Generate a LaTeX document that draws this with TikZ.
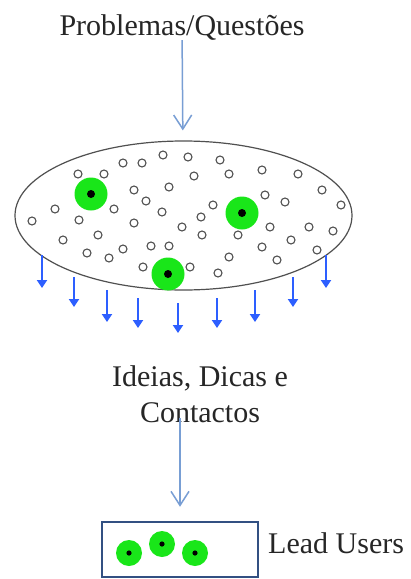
\documentclass[tikz,border=0pt]{standalone}
\usepackage{fontspec}
\newfontfamily\lblfont{Liberation Serif}
\usetikzlibrary{arrows.meta,shapes.geometric}
\definecolor{dotgray}{RGB}{80,80,80}
\definecolor{leadgreen}{RGB}{25,230,25}
\definecolor{flowblue}{RGB}{120,158,212}
\definecolor{dropblue}{RGB}{45,95,255}
\definecolor{boxblue}{RGB}{50,80,130}
\tikzset{
  lbl/.style={font=\lblfont\fontsize{30}{36}\selectfont, inner sep=0pt, text=black!85},
  flow/.style={draw=flowblue, line width=1.5pt, -{Straight Barb[length=14pt,width=18pt,line width=1.5pt]}},
  drop/.style={draw=dropblue, line width=2pt, -{Triangle[length=8pt,width=10pt]}},
  dotc/.style={draw=dotgray, line width=1.1pt, fill=white},
  lead/.style={fill=leadgreen},
  core/.style={fill=black},
}
\begin{document}
\begin{tikzpicture}[x=1pt,y=-1pt]
\useasboundingbox[fill=white] (0,0) rectangle (411,579);
% title
\node[lbl, anchor=base] (title) at (182,35) {Problemas/Questões};
% ellipse
\node[draw=dotgray, line width=1.2pt, ellipse, minimum width=337pt, minimum height=149pt, inner sep=0pt] (ell) at (183.5,215.5) {};
\draw[flow, shorten >=10pt] (title) -- (ell);
% small circles
\foreach \x/\y in {163/155,188/157,123/163,142/163,220/160,78/174,104/174,194/176,229/174,262/170,298/174,
  169/187,134/190,322/190,265/195,285/202,146/201,213/205,341/205,55/209,114/209,162/212,201/217,
  32/221,79/220,134/223,182/227,270/227,309/227,333/231,98/235,202/235,238/235,63/240,291/240,
  87/253,123/249,151/246,169/246,262/247,317/250,109/258,229/257,277/260,143/267,190/267,218/273}
  \draw[dotc] (\x,\y) circle (4);
% green lead users in the crowd
\foreach \x/\y in {91/194,242/213,168/274}{
  \fill[lead] (\x,\y) circle (16.5);
  \fill[core] (\x,\y) circle (4);
}
% blue drops
\foreach \x/\a/\b in {42/255/288,74/277/307,107/290/322,138/298/328,178/303/333,217/298/328,255/290/322,293/277/307,326/255/288}{
  \coordinate (s\x) at (\x,\a);
  \coordinate (e\x) at (\x,\b);
  \draw[drop] (s\x) -- (e\x);
}
% ideas text
\node[lbl, anchor=base, align=center] (ideas) at (200,422) {Ideias, Dicas e\\Contactos};
% box
\node[draw=boxblue, line width=2.5pt, minimum width=156pt, minimum height=55pt, inner sep=0pt] (box) at (180,549.5) {};
\coordinate (a2s) at (180,418);
\draw[flow, shorten >=14pt] (a2s) -- (box.north);
\foreach \x/\y in {129/553,162/544,195/553}{
  \fill[lead] (\x,\y) circle (13);
  \fill[core] (\x,\y) circle (2.6);
}
\node[lbl, anchor=base west] (lu) at (268,553) {Lead Users};
\end{tikzpicture}
\end{document}
